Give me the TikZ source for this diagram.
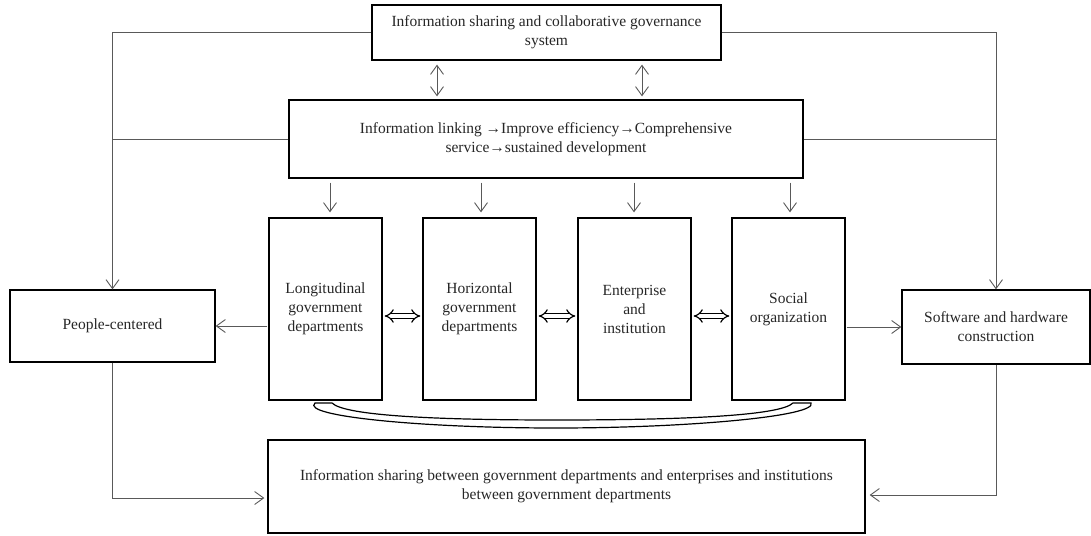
\documentclass[tikz,border=0pt]{standalone}
\usepackage{fontspec}
\setmainfont{Liberation Serif}
\usetikzlibrary{arrows.meta,calc}
\begin{document}
\begin{tikzpicture}[x=1pt,y=-1pt,
  box/.style={draw=black,line width=1.3pt,align=center,inner sep=2pt,text=black!85,
    font=\fontsize{15.5}{19}\selectfont},
  conn/.style={draw=black!65,line width=0.9pt},
  tip/.style={-{Straight Barb[length=9pt,width=13pt,line width=0.9pt]}},
  dtip/.style={{Straight Barb[length=9pt,width=13pt,line width=0.9pt]}-{Straight Barb[length=9pt,width=13pt,line width=0.9pt]}},
  hollow/.style={double=white,double distance=3.5pt,line width=1.2pt,draw=black,
    {Implies[scale=1.15]}-{Implies[scale=1.15]}}
]
\useasboundingbox (0,0) rectangle (1091,535);
\node[box,minimum width=349pt,minimum height=55pt] (top) at (546.5,32.5)
  {Information sharing and collaborative governance\\system};
\node[box,minimum width=514pt,minimum height=78pt] (mid) at (546,139)
  {Information linking →Improve efficiency→Comprehensive\\service→sustained development};
\node[box,minimum width=205pt,minimum height=72pt] (people) at (112.5,326) {People-centered};
\node[box,minimum width=188pt,minimum height=74pt] (soft) at (996,327) {Software and hardware\\construction};
\node[box,minimum width=113pt,minimum height=182pt] (b1) at (325.5,309) {Longitudinal\\government\\departments};
\node[box,minimum width=113pt,minimum height=182pt] (b2) at (479.5,309) {Horizontal\\government\\departments};
\node[box,minimum width=113pt,minimum height=182pt] (b3) at (634.5,309) {Enterprise\\and\\institution};
\node[box,minimum width=113pt,minimum height=182pt] (b4) at (788.5,309) {Social\\organization};
\node[box,minimum width=597pt,minimum height=93pt] (bot) at (566.5,486.5)
  {Information sharing between government departments and enterprises and institutions\\between government departments};

% top <-> mid
\draw[conn,dtip,shorten <=4pt,shorten >=3pt] (top.south -| 437,0) -- (mid.north -| 437,0);
\draw[conn,dtip,shorten <=4pt,shorten >=3pt] (top.south -| 642,0) -- (mid.north -| 642,0);
% mid -> boxes
\foreach \b/\x in {b1/330,b2/481,b3/634,b4/790}
  \draw[conn,tip,shorten <=4pt,shorten >=5pt] (mid.south -| \x,0) -- (\b.north -| \x,0);
% left side
\draw[conn,tip] (top.west) -| (people.north);
\draw[conn] (mid.west) -- (mid.west -| people.north);
% right side
\draw[conn,tip] (top.east) -| (soft.north);
\draw[conn] (mid.east) -- (mid.east -| soft.north);
% boxes to sides
\draw[conn,tip,shorten <=1pt] (b1.west |- people.east) -- (people.east);
\draw[conn,tip,shorten <=1pt] (b4.east |- soft.west) -- (soft.west);
% to bottom
\coordinate (pl) at (114,498);
\coordinate (sr) at (997,495);
\draw[conn,tip,shorten >=3pt] (people.south) -- (people.south |- pl) -- (bot.west |- pl);
\draw[conn,tip,shorten >=4pt] (soft.south) -- (soft.south |- sr) -- (bot.east |- sr);
% hollow double arrows
\draw[hollow,shorten <=2pt,shorten >=2pt] (b1.east |- 0,316) -- (b2.west |- 0,316);
\draw[hollow,shorten <=2pt,shorten >=2pt] (b2.east |- 0,316) -- (b3.west |- 0,316);
\draw[hollow,shorten <=2pt,shorten >=2pt] (b3.east |- 0,316) -- (b4.west |- 0,316);
% bracket band
\draw[line width=1.2pt,black] (315,403) -- (332,403)
  .. controls (345,416) and (440,420) .. (556,420)
  .. controls (680,420) and (780,416) .. (793,403) -- (811,403)
  .. controls (818,416) and (690,428) .. (556,428)
  .. controls (420,428) and (300,416) .. (315,403) -- cycle;
\end{tikzpicture}
\end{document}
